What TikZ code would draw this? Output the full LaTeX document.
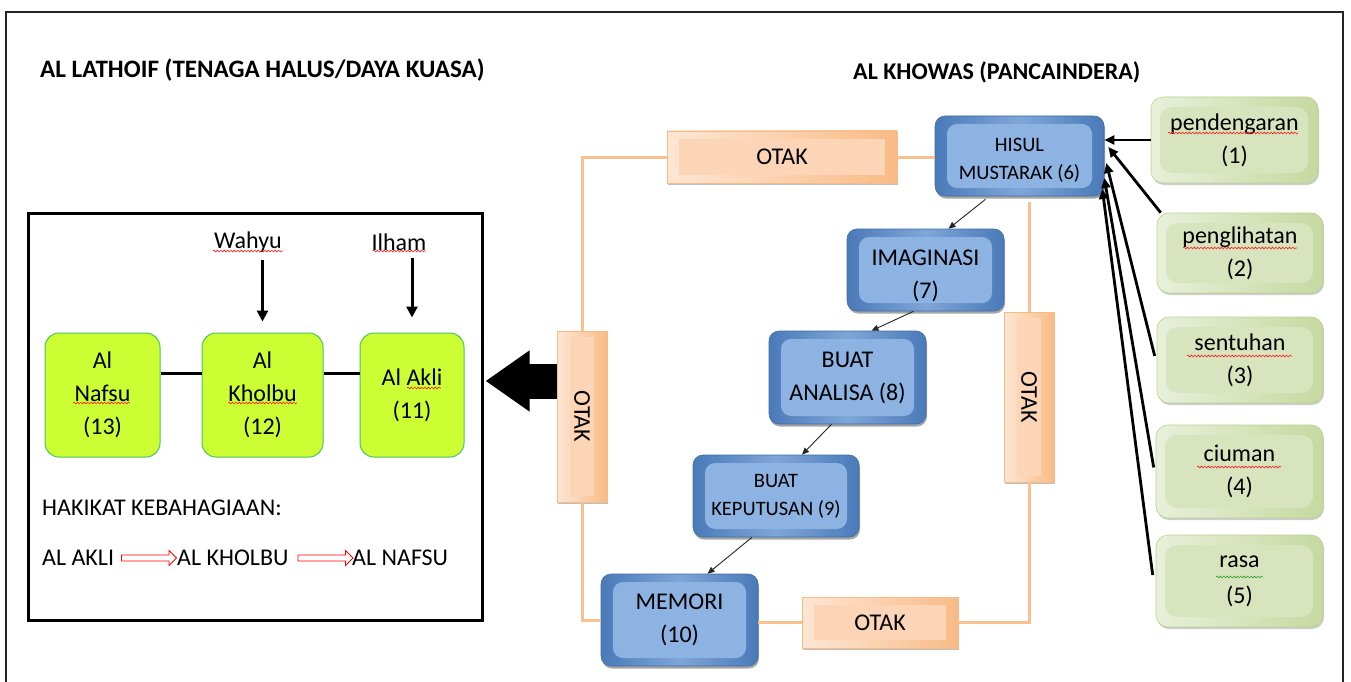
\documentclass[tikz,border=0pt]{standalone}
\usepackage{fontspec}
\usepackage{graphicx}
\setmainfont{Carlito}
\usetikzlibrary{arrows.meta,shapes.arrows,shadows,decorations.pathmorphing}
\definecolor{blueD}{HTML}{4A7AB8}
\definecolor{blueM}{HTML}{7FA6D8}
\definecolor{blueL}{HTML}{8DB3E2}
\definecolor{blueE}{HTML}{3F6DA8}
\definecolor{lime}{HTML}{CCFF33}
\definecolor{limeE}{HTML}{4CC35C}
\definecolor{grnD}{HTML}{C6D9A0}
\definecolor{grnL}{HTML}{E8F0DA}
\definecolor{grnI}{HTML}{D8E4BE}
\definecolor{grnE}{HTML}{BCD18F}
\definecolor{orD}{HTML}{F9BB86}
\definecolor{orL}{HTML}{FDE6D4}
\definecolor{orI}{HTML}{FBD5B6}
\definecolor{orLine}{HTML}{FAC090}
\definecolor{wavered}{HTML}{FF2020}
\definecolor{wavegrn}{HTML}{2FA02F}
\begin{document}
\begin{tikzpicture}[x=1pt,y=-1pt,
 f24/.style={font=\fontsize{24}{33}\selectfont},
 f20/.style={font=\fontsize{20.5}{28}\selectfont},
 ttl/.style={font=\fontsize{24}{28}\selectfont\bfseries, anchor=west, inner sep=0pt},
 bluebox/.style={draw=blueE, line width=0.6pt, rounded corners=10pt, left color=blueD, right color=blueD, middle color=blueM, align=center, inner sep=0pt,
   drop shadow={shadow xshift=1pt,shadow yshift=-2.5pt,opacity=0.35,fill=black},
   path picture={\fill[blueL] ([xshift=12pt,yshift=8pt]path picture bounding box.south west) rectangle ([xshift=-12pt,yshift=-8pt]path picture bounding box.north east);}},
 grnbox/.style={draw=grnE, line width=0.6pt, rounded corners=12pt, left color=grnL, right color=grnD, align=center, inner sep=0pt,
   drop shadow={shadow xshift=1pt,shadow yshift=-2pt,opacity=0.2,fill=black},
   path picture={\fill[grnI] ([xshift=9pt,yshift=10pt]path picture bounding box.south west) rectangle ([xshift=-10pt,yshift=-10pt]path picture bounding box.north east);}},
 obar/.style 2 args={draw=orD, line width=0.6pt, left color=orL, right color=orD, inner sep=0pt,
   drop shadow={shadow xshift=1pt,shadow yshift=-2pt,opacity=0.25,fill=black},
   path picture={\fill[orI] ([xshift=#1,yshift=#2]path picture bounding box.south west) rectangle ([xshift=-#1,yshift=-#2]path picture bounding box.north east);}},
 limebox/.style={draw=limeE, line width=1pt, fill=lime, rounded corners=14pt, align=center, inner sep=0pt},
 orline/.style={draw=orLine, line width=3pt},
 thinarr/.style={-{Triangle[length=7pt,width=6pt]}, line width=0.9pt, black!85},
 thickarr/.style={-{Triangle[length=11pt,width=11pt]}, line width=3pt},
 senarr/.style={-{Triangle[length=10pt,width=9pt]}, line width=2.8pt},
 bigarr/.style={-{Triangle[length=44pt,width=58pt]}, line width=35pt},
 harr/.style={single arrow, draw=red, fill=white, line width=0.8pt, minimum height=55pt, minimum width=15pt, single arrow head extend=3.5pt, inner sep=2pt},
 wave/.style={draw=wavered, line width=0.6pt, decorate, decoration={snake, amplitude=0.9pt, segment length=3.4pt}},
 wavegreen/.style={wave, draw=wavegrn}
]
\useasboundingbox (0,0) rectangle (1351,682);
\fill[white] (0,0) rectangle (1351,682);
\draw[line width=1.5pt, black!85] (6,682) -- (6,12) -- (1343,12) -- (1343,682);

% titles
\node[ttl, font=\fontsize{25.1}{28}\selectfont\bfseries] (t1) at (40,70) {AL LATHOIF (TENAGA HALUS/DAYA KUASA)};
\node[ttl] (t2) at (853,72) {AL KHOWAS (PANCAINDERA)};

% left frame
\node[draw, line width=3pt, minimum width=454pt, minimum height=407pt, inner sep=0pt] (lbox) at (255,416.5) {};

\node[limebox, f24, minimum width=115pt, minimum height=124pt] (nafsu) at (102.5,395) {Al\\Nafsu\\(13)};
\node[limebox, f24, minimum width=121pt, minimum height=124pt] (kholbu) at (262.5,395) {Al\\Kholbu\\(12)};
\node[limebox, f24, minimum width=104pt, minimum height=124pt] (akli) at (412,395) {Al Akli\\(11)};
\draw[line width=3pt] ([yshift=22pt]nafsu.east) -- ([yshift=22pt]kholbu.west);
\draw[line width=3pt] ([yshift=22pt]kholbu.east) -- ([yshift=22pt]akli.west);

\node[f24] (wahyu) at (248,242) {Wahyu};
\node[f24] (ilham) at (399,242) {Ilham};
\draw[thickarr, shorten <=4pt, shorten >=11pt] (wahyu.south -| kholbu.north) -- (kholbu.north);
\draw[thickarr, shorten <=4pt, shorten >=15pt] (ilham.south -| akli.north) -- (akli.north);

\node[f24, anchor=west, inner sep=0pt] (hak) at (42,508) {HAKIKAT KEBAHAGIAAN:};
\node[f24, anchor=west, inner sep=0pt] (sa) at (42,558) {AL AKLI};
\node[f24, anchor=west, inner sep=0pt] (sb) at (177,558) {AL KHOLBU};
\node[f24, anchor=west, inner sep=0pt] (sc) at (352,558) {AL NAFSU};
\node[harr] (ha1) at (147.5,558) {};
\node[harr] (ha2) at (324,558) {};

% blue chain
\node[bluebox, f20, minimum width=169pt, minimum height=80pt] (hisul) at (1019.5,156) {\rule{0pt}{21pt}HISUL\\MUSTARAK (6)};
\node[bluebox, f24, minimum width=157pt, minimum height=82pt] (imag) at (925.5,270) {\rule{0pt}{27.5pt}IMAGINASI\\(7)};
\node[bluebox, f24, minimum width=157pt, minimum height=93pt] (anal) at (847.5,377.5) {BUAT\\ANALISA (8)};
\node[bluebox, f20, minimum width=166pt, minimum height=82pt] (kep) at (776,496) {BUAT\\KEPUTUSAN (9)};
\node[bluebox, f24, minimum width=157pt, minimum height=92pt] (mem) at (679.5,620) {MEMORI\\(10)};

% OTAK bars
\node[obar={12pt}{8pt}, minimum width=230pt, minimum height=52pt, f24] (otakT) at (782,157) {OTAK};
\node[obar={13pt}{6pt}, minimum width=50pt, minimum height=171pt, f24] (otakL) at (582,416.5) {\rotatebox{-90}{OTAK}};
\node[obar={13pt}{6pt}, minimum width=50pt, minimum height=170pt, f24] (otakR) at (1029,397) {\rotatebox{-90}{OTAK}};
\node[obar={12pt}{8pt}, minimum width=156pt, minimum height=51pt, f24] (otakB) at (880,622.5) {OTAK};

\draw[orline] (otakT.east) -- (otakT.east -| hisul.west);
\draw[orline] (otakT.west) -| (otakL.north);
\draw[orline] (otakL.south) |- (mem.west);
\draw[orline] (mem.east |- otakB.west) -- (otakB.west);
\draw[orline] (otakB.east) -| (otakR.south);
\draw[orline] (otakR.north) -- ([yshift=-6pt]otakR.north |- hisul.south);

\draw[bigarr] ([yshift=35.5pt]otakL.west) -- ([yshift=35.5pt,xshift=2pt]lbox.east);

\draw[thinarr] ([xshift=-34pt,yshift=-3pt]hisul.south) -- ([xshift=23pt]imag.north);
\draw[thinarr] ([xshift=-12pt]imag.south) -- ([xshift=24pt]anal.north);
\draw[thinarr] ([xshift=-16pt]anal.south) -- ([xshift=26pt]kep.north);
\draw[thinarr] ([xshift=-24pt]kep.south) -- ([xshift=28pt]mem.north);

% senses
\node[grnbox, f24, minimum width=167pt, minimum height=86pt] (pend) at (1234.5,140) {pendengaran\\(1)};
\node[grnbox, f24, minimum width=166pt, minimum height=80pt] (pengl) at (1240,253) {penglihatan\\(2)};
\node[grnbox, f24, minimum width=166pt, minimum height=86pt] (sent) at (1240,360) {sentuhan\\(3)};
\node[grnbox, f24, minimum width=167pt, minimum height=93pt] (ciu) at (1239.5,471.5) {ciuman\\(4)};
\node[grnbox, f24, minimum width=167pt, minimum height=92pt] (rasa) at (1239.5,581) {rasa\\[3pt](5)};

\draw[senarr] (pend.west) -- ([yshift=16pt]hisul.east);
\draw[senarr] ([xshift=4pt]pengl.north west) -- ([xshift=4pt,yshift=9pt]hisul.east);
\draw[senarr] ([xshift=-2pt,yshift=4pt]sent.west) -- ([xshift=2pt,yshift=-7pt]hisul.east);
\draw[senarr] ([xshift=-2pt,yshift=4pt]ciu.west) -- ([yshift=-22pt]hisul.east);
\draw[senarr] ([xshift=-3pt,yshift=6pt]rasa.west) -- ([xshift=-2pt,yshift=-33pt]hisul.east);

% spell-check squiggles
\draw[wave] (213,251) -- (283,251);
\draw[wave] (373,251) -- (426,251);
\draw[wave] (73,403) -- (130,403);
\draw[wave] (228,403) -- (297,403);
\draw[wave] (407,388) -- (441,388);
\draw[wave] (1168,133) -- (1298,133);
\draw[wave] (1183,248) -- (1297,248);
\draw[wave] (1187,356) -- (1292,356);
\draw[wave] (1197,467) -- (1281,467);
\draw[wavegreen] (1216,577) -- (1263,577);
\end{tikzpicture}
\end{document}
